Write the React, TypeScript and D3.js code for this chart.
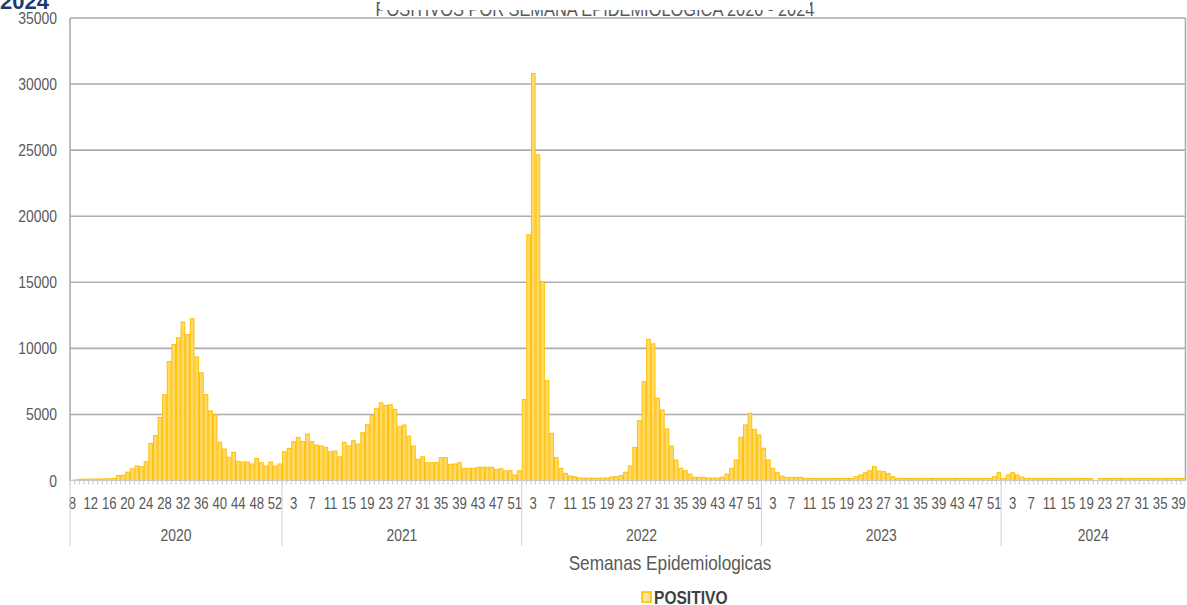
import React from 'react';
import * as d3 from 'd3';

const YEARS = ['2020', '2021', '2022', '2023', '2024'];
const FIRST_WEEK = [8, 1, 1, 1, 1];

const POS_2020 = [20, 60, 100, 100, 110, 110, 120, 120, 130, 150, 380, 400, 630, 880, 1100, 1050, 1430, 2800, 3400, 4770, 6500, 9000, 10300, 10800, 12000, 11050, 12250, 9350, 8150, 6500, 5270, 4970, 2890, 2380, 1760, 2130, 1460, 1400, 1400, 1250, 1660, 1350, 1080, 1400, 1080, 1250];
const POS_2021 = [2180, 2430, 2940, 3260, 2940, 3520, 2940, 2680, 2610, 2510, 2180, 2230, 1800, 2890, 2630, 3010, 2760, 3620, 4250, 4900, 5460, 5880, 5680, 5730, 5380, 4070, 4200, 3360, 2610, 1600, 1800, 1350, 1350, 1350, 1730, 1730, 1220, 1250, 1350, 920, 920, 920, 1000, 1000, 1000, 1000, 840, 890, 720, 740, 420, 740];
const POS_2022 = [6140, 18600, 30800, 24650, 15060, 7560, 3570, 1730, 920, 540, 340, 290, 200, 180, 170, 170, 170, 180, 190, 265, 290, 370, 620, 1100, 2510, 4530, 7480, 10690, 10340, 6220, 5340, 3900, 2610, 1550, 920, 740, 490, 240, 240, 240, 190, 190, 190, 240, 490, 920, 1550, 3270, 4200, 5090, 3870, 3450];
const POS_2023 = [2440, 1550, 920, 590, 340, 240, 240, 240, 240, 160, 150, 150, 150, 150, 150, 150, 150, 150, 150, 150, 290, 420, 590, 740, 1050, 720, 670, 540, 290, 160, 150, 150, 150, 150, 150, 150, 150, 150, 150, 150, 150, 150, 150, 150, 150, 150, 150, 150, 150, 150, 290, 590];
const POS_2024 = [150, 420, 590, 420, 260, 160, 150, 150, 150, 150, 150, 150, 150, 150, 150, 150, 150, 150, 150, 150, 0, 150, 150, 150, 150, 150, 150, 150, 150, 150, 150, 150, 150, 150, 150, 150, 150, 150, 150, 150];

const SERIES = [POS_2020, POS_2021, POS_2022, POS_2023, POS_2024];
const Y_TICKS = [0, 5000, 10000, 15000, 20000, 25000, 30000, 35000];
const X_TITLE = 'Semanas Epidemiologicas';
const LEGEND_LABEL = 'POSITIVO';
const TITLE_LEFT = '2024';
const TITLE_CENTER = 'POSITIVOS POR SEMANA EPIDEMIOLÓGICA 2020 - 2024';

const FONT = "'Liberation Sans', Arial, sans-serif";

function NText(props: any) {
  const { x, y, size, anchor = 'start', fill = '#595959', weight = 'normal', sx = 0.82, children } = props;
  return (
    <text
      transform={`translate(${x},${y}) scale(${sx},1)`}
      fontSize={size}
      textAnchor={anchor}
      fill={fill}
      fontWeight={weight}
      fontFamily={FONT}
    >
      {children}
    </text>
  );
}

export default function App() {
  const W = 1187;
  const H = 605;
  const left = 70;
  const right = 1185.5;
  const top = 18;
  const bottom = 480.5;

  const data: { year: string; week: number; value: number }[] = [];
  const groups: { year: string; start: number; count: number }[] = [];
  SERIES.forEach((arr, yi) => {
    groups.push({ year: YEARS[yi], start: data.length, count: arr.length });
    arr.forEach((v, k) => data.push({ year: YEARS[yi], week: FIRST_WEEK[yi] + k, value: v }));
  });

  const x = d3
    .scaleBand<number>()
    .domain(data.map((_, i) => i))
    .range([left, right])
    .paddingInner(0.2)
    .paddingOuter(0.1);
  const step = x.step();
  const bw = x.bandwidth();
  const y = d3.scaleLinear().domain([0, 35000]).range([bottom, top]);
  const boundary = (i: number) => left + step * i;

  return (
    <svg width={W} height={H} style={{ position: 'fixed', left: 0, top: 0, background: '#fff' }}>
      <rect x={0} y={0} width={W} height={H} fill="#fff" />
      {/* titles (cropped at top) */}
      <text x={0} y={9} fontSize={22} fontWeight="bold" fill="#1F3A73" fontFamily={FONT}>
        {TITLE_LEFT}
      </text>
      <NText x={595} y={16} size={20} anchor="middle" fill="#595959">
        {TITLE_CENTER}
      </NText>
      <rect x={380} y={0} width={430} height={10} fill="#fff" />

      {/* gridlines */}
      {Y_TICKS.filter((t) => t > 0).map((t) => (
        <line key={t} x1={left} x2={right} y1={y(t)} y2={y(t)} stroke="#ADADAD" strokeWidth={1.6} />
      ))}
      {/* plot border left/right */}
      <line x1={left} x2={left} y1={top} y2={bottom} stroke="#ADADAD" strokeWidth={1.6} />
      <line x1={right} x2={right} y1={top} y2={bottom} stroke="#ADADAD" strokeWidth={1.6} />

      {/* y labels */}
      {Y_TICKS.map((t) => (
        <NText key={t} x={57} y={y(t) + 6} size={17} anchor="end">
          {t}
        </NText>
      ))}

      {/* bars */}
      {data.map((d, i) =>
        d.value > 0 ? (
          <rect
            key={i}
            x={x(i)}
            y={y(d.value)}
            width={bw}
            height={bottom - y(d.value)}
            fill="#FFDA6A"
            stroke="#FFC000"
            strokeWidth={1}
          />
        ) : null
      )}

      {/* baseline and minor ticks */}
      <line x1={left} x2={right} y1={bottom} y2={bottom} stroke="#C8C8C8" strokeWidth={1} />
      {data.map((_, i) => (
        <line key={'t' + i} x1={boundary(i)} x2={boundary(i)} y1={bottom} y2={bottom + 4} stroke="#C8C8C8" strokeWidth={1} />
      ))}

      {/* x tick labels */}
      {data.map((d, i) =>
        i % 4 === 0 ? (
          <NText key={'l' + i} x={(x(i) as number) + bw / 2} y={509} size={16} anchor="middle">
            {d.week}
          </NText>
        ) : null
      )}

      {/* year separators */}
      {groups.map((g) => (
        <line
          key={'s' + g.year}
          x1={boundary(g.start)}
          x2={boundary(g.start)}
          y1={bottom}
          y2={546}
          stroke="#D0D0D0"
          strokeWidth={1}
        />
      ))}
      {groups.map((g) => (
        <NText key={'y' + g.year} x={boundary(g.start + g.count / 2)} y={541} size={17} anchor="middle">
          {g.year}
        </NText>
      ))}

      {/* axis title */}
      <NText x={670} y={570} size={21} anchor="middle">
        {X_TITLE}
      </NText>

      {/* legend */}
      <rect x={642} y={592} width={9} height={10} fill="#FFE699" stroke="#FFC000" strokeWidth={1.6} />
      <NText x={654} y={604} size={19} weight="bold" fill="#404040">
        {LEGEND_LABEL}
      </NText>
    </svg>
  );
}
